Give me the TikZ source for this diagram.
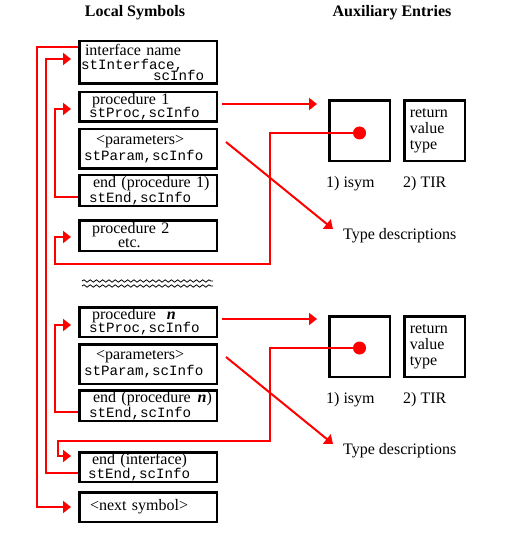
\documentclass[tikz,border=0pt]{standalone}
\usepackage{fontspec}
\setmainfont{Liberation Serif}
\setmonofont{Liberation Mono}
\usepackage{tikz}
\usetikzlibrary{arrows.meta, positioning, calc, decorations.pathmorphing}

\newcommand{\boxfont}{\fontsize{16}{13}\selectfont\lineskiplimit=-20pt\relax}
\newcommand{\stfont}{\fontsize{14.2}{13}\ttfamily}

\begin{document}
\begin{tikzpicture}[
    x=1pt, y=-1pt,
    box/.style={rectangle, draw, line width=2.5pt, text width=134pt, inner xsep=1.75pt, inner ysep=0pt, align=left, font=\boxfont},
    auxbox/.style={rectangle, draw, line width=2.5pt, minimum width=60.5pt, minimum height=60.5pt, inner sep=0pt},
    lbl/.style={inner sep=0pt, font=\fontsize{16}{16}\selectfont},
    title/.style={inner sep=0pt, font=\fontsize{16}{19}\selectfont\bfseries},
    dot/.style={circle, fill=red, inner sep=0pt, minimum size=13pt},
    link/.style={draw=red, line width=2pt, -{Triangle[length=8pt, width=12pt]}},
    wavy/.style={decorate, decoration={snake, segment length=6.25pt, amplitude=1.2pt}, line width=0.8pt}
]
    \useasboundingbox (0,0) rectangle (506,553);

    % Titles
    \node[title] (loctitle) at (135,13) {Local Symbols};
    \node[title] (auxtitle) at (392,13) {Auxiliary Entries};

    % Local symbol boxes
    \node[box, minimum height=42.5pt] (iface) at (148,62.5) {\hspace*{4pt}interface name\\[1pt]{\stfont stInterface,}\\[-1.5pt]\hspace*{72pt}{\stfont scInfo}};
    \node[box, minimum height=29.5pt] (procA) at (148,107) {\hspace*{11pt}procedure 1\\\hspace*{8pt}{\stfont stProc,scInfo}};
    \node[box, minimum height=39.5pt] (paramA) at (148,149) {\hspace*{15pt}<parameters>\\[3.5pt]\hspace*{3pt}{\stfont stParam,scInfo}};
    \node[box, minimum height=30.5pt] (endA) at (148,190.5) {\hspace*{12pt}end (procedure 1)\\[1.5pt]\hspace*{8pt}{\stfont stEnd,scInfo}};
    \node[box, minimum height=30.5pt] (proc2) at (148,235.5) {\hspace*{11pt}procedure 2\\[1pt]\hspace*{37pt}etc.};

    \draw[wavy] (82,281) -- (213,281);
    \draw[wavy] (82,286) -- (213,286);

    \node[box, minimum height=29.5pt] (procB) at (148,322) {\hspace*{11pt}procedure\hspace{11pt}\textbf{\textit{n}}\\\hspace*{8pt}{\stfont stProc,scInfo}};
    \node[box, minimum height=39.5pt] (paramB) at (148,364) {\hspace*{15pt}<parameters>\\[3.5pt]\hspace*{3pt}{\stfont stParam,scInfo}};
    \node[box, minimum height=30.5pt] (endB) at (148,405.5) {\hspace*{12pt}end (procedure\hspace{7pt}\textbf{\textit{n}})\\[1.5pt]\hspace*{8pt}{\stfont stEnd,scInfo}};
    \node[box, minimum height=29.5pt] (endI) at (148,467) {\hspace*{11pt}end (interface)\\[1.5pt]\hspace*{7pt}{\stfont stEnd,scInfo}};
    \node[box, minimum height=29.5pt] (next) at (148,507) {\hspace*{9pt}<next symbol>};

    % Auxiliary entries, procedure 1
    \node[auxbox] (isymA) at (359.5,131) {};
    \node[auxbox, text width=49.5pt, inner xsep=5.5pt, align=left, font=\fontsize{16}{16}\selectfont] (tirA) at (434.5,131) {return\\value\\type};
    \node[dot] (dotA) at ($(isymA.center)+(0,2)$) {};
    \node[lbl, anchor=north west] (isymlblA) at ($(isymA.south west)+(-2,14)$) {1) isym};
    \node[lbl, anchor=north west] (tirlblA) at ($(tirA.south west)+(0,14)$) {2) TIR};
    \node[lbl, anchor=west] (typeA) at (343,236) {Type descriptions};

    % Auxiliary entries, procedure n
    \node[auxbox] (isymB) at (359.5,346.5) {};
    \node[auxbox, text width=49.5pt, inner xsep=5.5pt, align=left, font=\fontsize{16}{16}\selectfont] (tirB) at (434.5,346.5) {return\\value\\type};
    \node[dot] (dotB) at ($(isymB.center)+(0,1.5)$) {};
    \node[lbl, anchor=north west] (isymlblB) at ($(isymB.south west)+(-2,14)$) {1) isym};
    \node[lbl, anchor=north west] (tirlblB) at ($(tirB.south west)+(0,14)$) {2) TIR};
    \node[lbl, anchor=west] (typeB) at (343,451) {Type descriptions};

    % Arrows on the left
    \draw[link] ($(iface.west)+(0,-15.5)$) -| (37,507) -- ($(next.west)+(-7,0)$);
    \draw[link] ($(endI.west)+(0,6)$) -| (46,59) -- ($(iface.west)+(-7,-3.5)$);
    \draw[link] ($(endA.west)+(0,6.5)$) -| (55,109) -- ($(procA.west)+(-7,2)$);
    \draw[link] (dotA.center) -| (270,264) -- (55,264) |- ($(proc2.west)+(-7,1.5)$);
    \draw[link] ($(endB.west)+(0,6.5)$) -| (55,325) -- ($(procB.west)+(-7,3)$);
    \draw[link] (dotB.center) -| (270,441) -- (58,441) |- ($(endI.west)+(-7,-11)$);

    % Arrows on the right
    \draw[link] ($(procA.east)+(4,-3)$) -- ($(isymA.west |- procA.east)+(-11,-3)$);
    \draw[link] ($(paramA.east)+(8,-7)$) -- ($(typeA.west)+(-10,-7)$);
    \draw[link] ($(procB.east)+(4,-3)$) -- ($(isymB.west |- procB.east)+(-11,-3)$);
    \draw[link] ($(paramB.east)+(8,-7)$) -- ($(typeB.west)+(-10,-7)$);
\end{tikzpicture}
\end{document}
